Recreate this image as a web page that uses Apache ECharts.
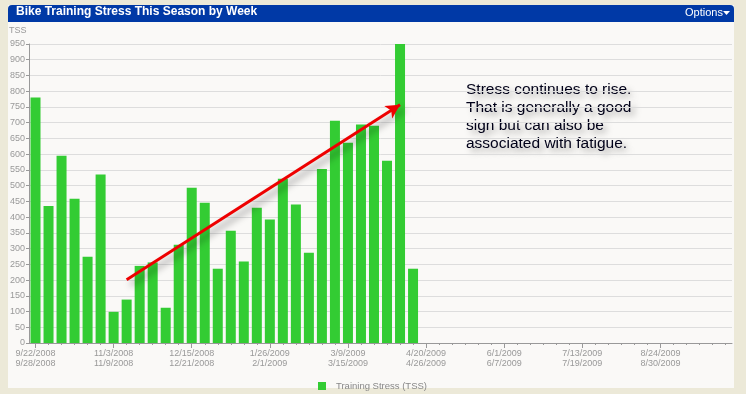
<!DOCTYPE html>
<html><head><meta charset="utf-8">
<script src="https://cdn.jsdelivr.net/npm/echarts@6/dist/echarts.min.js"></script>
<style>html,body{margin:0;padding:0;background:#ECE9D8}#c{width:746px;height:394px}</style>
</head><body><div id="c"></div>
<script>
// Week start dates (categories)
const weekStarts = [
  '9/22/2008','9/29/2008','10/6/2008','10/13/2008','10/20/2008','10/27/2008',
  '11/3/2008','11/10/2008','11/17/2008','11/24/2008','12/1/2008','12/8/2008',
  '12/15/2008','12/22/2008','12/29/2008','1/5/2009','1/12/2009','1/19/2009',
  '1/26/2009','2/2/2009','2/9/2009','2/16/2009','2/23/2009','3/2/2009',
  '3/9/2009','3/16/2009','3/23/2009','3/30/2009','4/6/2009','4/13/2009',
  '4/20/2009','4/27/2009','5/4/2009','5/11/2009','5/18/2009','5/25/2009',
  '6/1/2009','6/8/2009','6/15/2009','6/22/2009','6/29/2009','7/6/2009',
  '7/13/2009','7/20/2009','7/27/2009','8/3/2009','8/10/2009','8/17/2009',
  '8/24/2009','8/31/2009','9/7/2009','9/14/2009','9/21/2009','9/28/2009'
];
// Training Stress (TSS) per week (weeks without data left empty)
const tss = [780,435,595,458,274,535,99,138,245,256,112,312,493,446,236,357,259,430,392,522,440,287,553,706,636,694,690,579,950,236];
const seriesName = 'Training Stress (TSS)';
const yMin = 0, yMax = 950, yStep = 50;
const titleText = 'Bike Training Stress This Season by Week';
const annotationLines = ['Stress continues to rise.','That is generally a good','sign but can also be','associated with fatigue.'];
const arrowFrom = ['11/10/2008', 201];
const arrowTo = ['4/6/2009', 757];

const seriesData = weekStarts.map((w, i) => (i < tss.length ? tss[i] : null));

function weekEnd(s) {
  const p = s.split('/').map(Number);
  const d = new Date(p[2], p[0] - 1, p[1] + 6);
  return (d.getMonth() + 1) + '/' + d.getDate() + '/' + d.getFullYear();
}

const FONT = 'Liberation Sans, Arial, sans-serif';
const chart = echarts.init(document.getElementById('c'), null, {renderer: 'canvas'});
chart.setOption({
  backgroundColor: '#FAF9F7',
  animation: false,
  grid: {left: 29, right: 14, top: 44, height: 299},
  legend: {
    left: 313, top: 376, icon: 'rect', itemWidth: 8, itemHeight: 8,
    textStyle: {color: '#888', fontSize: 9.5, fontFamily: FONT, padding: [0, 0, 0, 5]},
    data: [seriesName]
  },
  xAxis: [{
    type: 'category', data: weekStarts, position: 'bottom',
    axisLine: {lineStyle: {color: '#999', width: 1}},
    axisTick: {show: true, interval: 0, alignWithLabel: true, length: 2, lineStyle: {color: '#999'}},
    axisLabel: {
      interval: 5, color: '#999', fontSize: 9, fontFamily: FONT, margin: 6, lineHeight: 10,
      formatter: v => v + '\n' + weekEnd(v)
    },
    splitLine: {show: false}
  }, {
    type: 'category', data: weekStarts, position: 'bottom',
    axisLine: {show: false},
    axisTick: {show: true, interval: 5, alignWithLabel: true, length: 5, lineStyle: {color: '#999'}},
    axisLabel: {show: false},
    splitLine: {show: false}
  }],
  yAxis: {
    type: 'value', min: yMin, max: yMax, interval: yStep,
    axisLine: {show: true, lineStyle: {color: '#999'}},
    axisTick: {show: true, length: 3, lineStyle: {color: '#999'}},
    axisLabel: {color: '#999', fontSize: 9, fontFamily: FONT, margin: 4},
    splitLine: {lineStyle: {color: '#DDDDDD', width: 1}}
  },
  series: [{
    name: seriesName, type: 'bar', data: seriesData,
    barWidth: 10,
    itemStyle: {color: '#33CC33'},
    markLine: {
      silent: true, symbol: ['none', 'arrow'], symbolSize: [11, 14],
      label: {show: false},
      lineStyle: {color: '#EE0000', width: 3, type: 'solid',
        shadowColor: 'rgba(0,0,0,0.4)', shadowBlur: 7, shadowOffsetX: 4, shadowOffsetY: 5},
      data: [[{coord: arrowFrom}, {coord: arrowTo}]]
    }
  }],
  graphic: [
    // outer window frame
    {type: 'rect', shape: {x: 0, y: 0, width: 746, height: 5}, style: {fill: '#ECE9D8'}, silent: true},
    {type: 'rect', shape: {x: 0, y: 0, width: 8, height: 394}, style: {fill: '#ECE9D8'}, silent: true},
    {type: 'rect', shape: {x: 734, y: 0, width: 12, height: 394}, style: {fill: '#ECE9D8'}, silent: true},
    {type: 'rect', shape: {x: 0, y: 388, width: 746, height: 6}, style: {fill: '#ECE9D8'}, silent: true},
    // title bar
    {type: 'rect', shape: {x: 8, y: 5, width: 726, height: 17, r: [4, 4, 0, 0]}, style: {fill: '#0039A6'}, silent: true},
    {type: 'text', left: 16, top: 6, style: {text: titleText, fill: '#fff', font: 'bold 12px ' + FONT}, silent: true},
    {type: 'text', left: 685, top: 7, style: {text: 'Options', fill: '#fff', font: '11px ' + FONT}, silent: true},
    {type: 'polygon', shape: {points: [[723, 11], [730, 11], [726.5, 15]]}, style: {fill: '#fff'}, silent: true},
    // y axis name
    {type: 'text', left: 9, top: 26, style: {text: 'TSS', fill: '#999', font: '9px ' + FONT}, silent: true},
    // annotation
    {type: 'text', left: 466, top: 81, style: {
      text: annotationLines.join('\n'), fill: '#000018', font: '15.5px ' + FONT, lineHeight: 18,
      textShadowColor: 'rgba(0,0,0,0.35)', textShadowBlur: 6, textShadowOffsetX: 4, textShadowOffsetY: 4
    }, silent: true}
  ]
});
</script>
</body></html>
